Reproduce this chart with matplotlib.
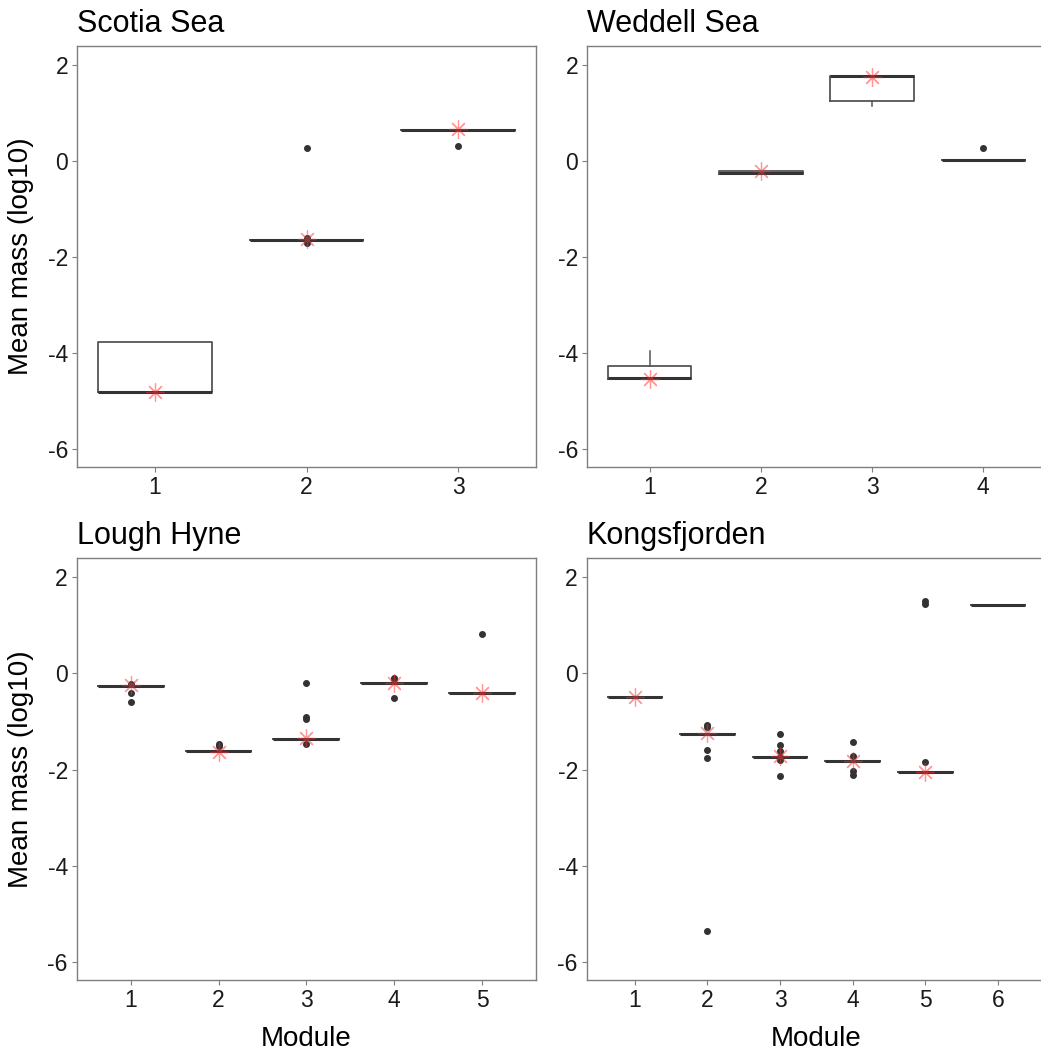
import numpy as np
import matplotlib
matplotlib.use("Agg")
import matplotlib.pyplot as plt

plt.rcParams['font.family'] = ['Liberation Sans', 'DejaVu Sans']

# Scotia Sea
scotia_med = [-4.81, -1.64, 0.655]
scotia_q1 = [-4.81, -1.64, 0.655]
scotia_q3 = [-3.78, -1.64, 0.655]
scotia_lo = [-4.81, -1.64, 0.655]
scotia_hi = [-3.78, -1.64, 0.655]
scotia_fliers = [[], [0.28, -1.60, -1.72], [0.31]]
scotia_mean = [-4.81, -1.63, 0.66]

# Weddell Sea
weddell_med = [-4.53, -0.24, 1.77, 0.03]
weddell_q1 = [-4.55, -0.27, 1.25, 0.03]
weddell_q3 = [-4.28, -0.20, 1.77, 0.03]
weddell_lo = [-4.55, -0.27, 1.14, 0.03]
weddell_hi = [-3.97, -0.20, 1.77, 0.03]
weddell_fliers = [[], [], [], [0.28]]
weddell_mean = [-4.54, -0.21, 1.76, np.nan]

# Lough Hyne
hyne_med = [-0.265, -1.62, -1.36, -0.195, -0.40]
hyne_fliers = [[-0.22, -0.40, -0.60], [-1.46, -1.50], [-0.195, -0.905, -0.95, -1.46],
               [-0.09, -0.125, -0.51], [0.82]]
hyne_mean = [-0.25, -1.63, -1.34, -0.19, -0.40]

# Kongsfjorden
kongs_med = [-0.495, -1.25, -1.73, -1.82, -2.04, 1.43]
kongs_fliers = [[], [-1.07, -1.11, -1.60, -1.75, -5.36],
                [-1.26, -1.48, -1.61, -1.73, -1.80, -2.13],
                [-1.42, -1.72, -2.02, -2.11], [1.51, 1.44, -1.84], []]
kongs_mean = [-0.495, -1.24, -1.72, -1.82, -2.05, np.nan]

titles = ["Scotia Sea", "Weddell Sea", "Lough Hyne", "Kongsfjorden"]
yticks = [-6, -4, -2, 0, 2]

grey = '#7f7f7f'


def stats(med, q1, q3, lo, hi, fliers):
    out = []
    for i in range(len(med)):
        out.append(dict(med=med[i], q1=q1[i], q3=q3[i], whislo=lo[i], whishi=hi[i],
                        fliers=fliers[i]))
    return out


panels = [
    stats(scotia_med, scotia_q1, scotia_q3, scotia_lo, scotia_hi, scotia_fliers),
    stats(weddell_med, weddell_q1, weddell_q3, weddell_lo, weddell_hi, weddell_fliers),
    stats(hyne_med, hyne_med, hyne_med, hyne_med, hyne_med, hyne_fliers),
    stats(kongs_med, kongs_med, kongs_med, kongs_med, kongs_med, kongs_fliers),
]
means = [scotia_mean, weddell_mean, hyne_mean, kongs_mean]

W, H = 1041, 1050
fig = plt.figure(figsize=(W / 100, H / 100), dpi=100)
rects = [
    (77.3, 46, 458.4, 420.5),
    (587.3, 46, 458.4, 420.5),
    (76.8, 558, 459.2, 422),
    (586.8, 558, 459.2, 422),
]

for k, (x0, y0, w, h) in enumerate(rects):
    ax = fig.add_axes([x0 / W, 1 - (y0 + h) / H, w / W, h / H])
    st = panels[k]
    n = len(st)
    pos = np.arange(1, n + 1)
    ax.bxp(st, positions=pos, widths=0.75, showfliers=True, showcaps=False,
           boxprops=dict(color='#555555', linewidth=1.3),
           whiskerprops=dict(color='#555555', linewidth=1.1),
           medianprops=dict(color='#333333', linewidth=2.2),
           flierprops=dict(marker='o', markersize=4, markerfacecolor='#333333',
                           markeredgecolor='#333333', linestyle='none'))
    # means
    ax.plot(pos, means[k], linestyle='none', marker=(8, 2, 0), markersize=13,
            color='#ff3030', alpha=0.5, markeredgewidth=0.9, zorder=5)

    lo, hi = 1 - 0.375, n + 0.375
    pad = 0.05 * (hi - lo)
    ax.set_xlim(lo - pad, hi + pad)
    ax.set_ylim(-6.375, 2.4)
    ax.set_xticks(pos)
    ax.set_xticklabels([str(p) for p in pos])
    ax.set_yticks(yticks)
    ax.set_yticklabels([str(t) for t in yticks])
    ax.tick_params(labelsize=16.5, color=grey, length=3.5, width=0.8, pad=3,
                   labelcolor='#1a1a1a')
    for s in ax.spines.values():
        s.set_color(grey)
        s.set_linewidth(1.0)
    ax.set_title(titles[k], loc='left', fontsize=22, pad=10)
    if k % 2 == 0:
        ax.set_ylabel("Mean mass (log10)", fontsize=20, labelpad=10)
    if k >= 2:
        ax.set_xlabel("Module", fontsize=20, labelpad=10)

fig.savefig("out.png", dpi=100)
